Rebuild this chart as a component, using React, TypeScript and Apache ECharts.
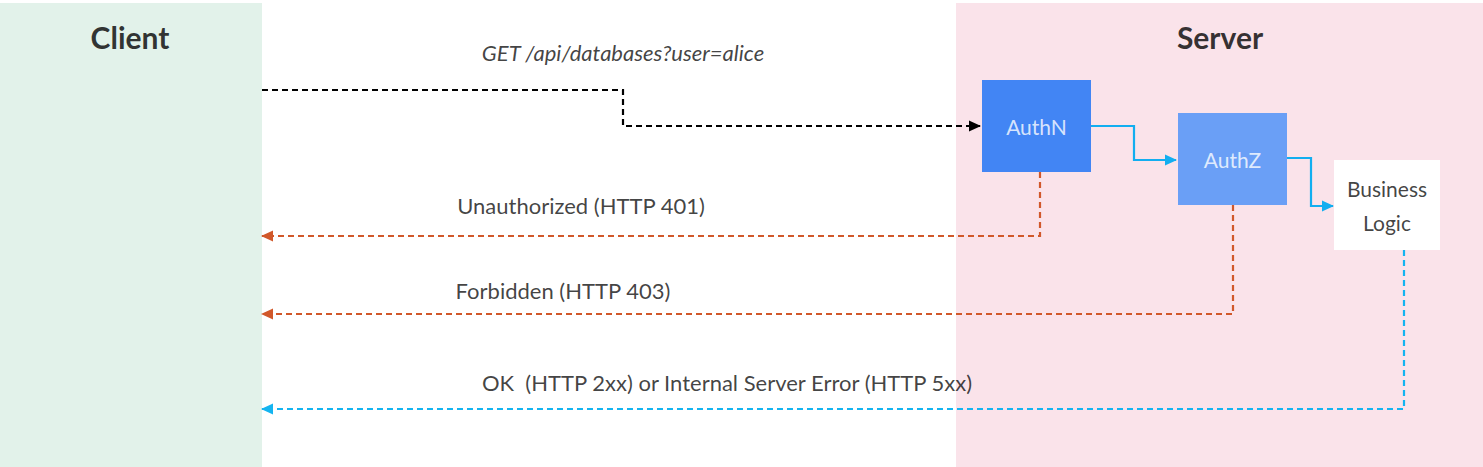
import { useEffect, useRef } from 'react';
import * as echarts from 'echarts';

// diagram space: 1483 x 467, y grows downward
const panels = [
  { name: 'Client', x0: 0, y0: 3, x1: 262, y1: 467, color: '#e2f2ea' },
  { name: 'Server', x0: 956, y0: 3, x1: 1483, y1: 467, color: '#fae3ea' },
];
const boxes = [
  { name: 'AuthN', x0: 982, y0: 80, x1: 1091, y1: 172, color: '#4285f4', text: '#ffffff' },
  { name: 'AuthZ', x0: 1178, y0: 113, x1: 1287, y1: 205, color: '#6a9ff6', text: '#ffffff' },
  { name: 'Business\nLogic', x0: 1334, y0: 160, x1: 1440, y1: 250, color: '#ffffff', text: '#111111' },
];
const titles = [
  { name: 'Client', x: 130, y: 37 },
  { name: 'Server', x: 1220, y: 37 },
];
const edges = [
  { coords: [[262, 90], [623, 90], [623, 126], [980, 126]], color: '#000000', dash: true },
  { coords: [[1091, 126], [1134, 126], [1134, 160], [1176, 160]], color: '#12aef0', dash: false },
  { coords: [[1287, 158], [1311, 158], [1311, 206], [1333, 206]], color: '#12aef0', dash: false },
  { coords: [[1040, 172], [1040, 236], [262, 236]], color: '#d1582a', dash: true },
  { coords: [[1233, 205], [1233, 314], [262, 314]], color: '#d1582a', dash: true },
  { coords: [[1404, 250], [1404, 409], [262, 409]], color: '#14b4f0', dash: true },
];
const edgeLabels = [
  { name: 'GET /api/databases?user=alice', x: 623, y: 52, italic: true },
  { name: 'Unauthorized (HTTP 401)', x: 581, y: 205, italic: false },
  { name: 'Forbidden (HTTP 403)', x: 563, y: 290, italic: false },
  { name: 'OK  (HTTP 2xx) or Internal Server Error (HTTP 5xx)', x: 727, y: 382, italic: false },
];

const FONT = 'Lato, "Liberation Sans", sans-serif';

export default function App() {
  const ref = useRef<HTMLDivElement | null>(null);

  useEffect(() => {
    document.body.style.margin = '0';
    if (!ref.current) return;
    const chart = echarts.init(ref.current, undefined, { renderer: 'svg' });

    const rectItem = (params: any, api: any) => {
      const a = api.coord([api.value(0), api.value(1)]);
      const b = api.coord([api.value(2), api.value(3)]);
      return {
        type: 'rect',
        shape: { x: a[0], y: a[1], width: b[0] - a[0], height: b[1] - a[1] },
        style: { fill: api.value(4) },
      };
    };

    // arrow heads at the end of each edge, pointing along its last segment
    const heads = edges.map((e) => {
      const n = e.coords.length;
      const [x1, y1] = e.coords[n - 1];
      const [x0, y0] = e.coords[n - 2];
      const dx = Math.sign(x1 - x0);
      const dy = Math.sign(y1 - y0);
      const rot = dx > 0 ? -90 : dx < 0 ? 90 : dy > 0 ? 180 : 0;
      return {
        value: [x1 - dx * 5, y1 - dy * 5],
        symbolRotate: rot,
        itemStyle: { color: e.color, opacity: 1 },
      };
    });

    chart.setOption({
      animation: false,
      grid: { left: 0, right: 0, top: 0, bottom: 0 },
      xAxis: { type: 'value', min: 0, max: 1483, show: false },
      yAxis: { type: 'value', min: 0, max: 467, inverse: true, show: false },
      series: [
        {
          type: 'custom',
          renderItem: rectItem,
          data: panels.map((p) => [p.x0, p.y0, p.x1, p.y1, p.color]),
          silent: true,
        },
        {
          type: 'custom',
          renderItem: rectItem,
          data: boxes.map((b) => [b.x0, b.y0, b.x1, b.y1, b.color]),
          silent: true,
          z: 3,
        },
        {
          type: 'lines',
          coordinateSystem: 'cartesian2d',
          polyline: true,
          z: 4,
          data: edges.map((e) => ({
            coords: e.coords,
            lineStyle: { color: e.color, type: e.dash ? [6, 4] : 'solid', width: 2.2, opacity: 1 },
          })),
        },
        {
          type: 'scatter',
          symbol: 'triangle',
          symbolSize: [11, 12],
          z: 5,
          data: heads,
        },
        {
          type: 'scatter',
          symbolSize: 0,
          z: 5,
          data: titles.map((t) => ({ name: t.name, value: [t.x, t.y] })),
          label: {
            show: true, position: 'inside', formatter: '{b}',
            fontFamily: FONT, fontWeight: 'bold', fontSize: 30, color: '#000',
          },
        },
        {
          type: 'scatter',
          symbolSize: 0,
          z: 5,
          data: boxes.map((b) => ({
            name: b.name,
            value: [(b.x0 + b.x1) / 2, (b.y0 + b.y1) / 2],
            label: { color: b.text },
          })),
          label: {
            show: true, position: 'inside', formatter: '{b}',
            fontFamily: FONT, fontSize: 21, lineHeight: 34,
          },
        },
        {
          type: 'scatter',
          symbolSize: 0,
          z: 5,
          data: edgeLabels.map((l) => ({
            name: l.name,
            value: [l.x, l.y],
            label: { fontStyle: l.italic ? 'italic' : 'normal' },
          })),
          label: {
            show: true, position: 'inside', formatter: '{b}',
            fontFamily: FONT, fontSize: 22, color: '#111',
          },
        },
      ],
    });

    return () => chart.dispose();
  }, []);

  return <div ref={ref} style={{ width: 1483, height: 467 }} />;
}
